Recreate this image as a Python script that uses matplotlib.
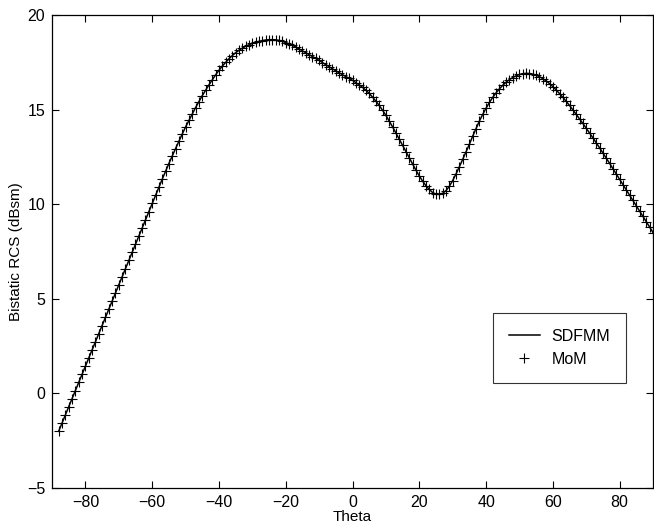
import matplotlib
matplotlib.use("Agg")
import matplotlib.pyplot as plt
import numpy as np

# observation angle (deg), one MoM sample per degree
theta = np.arange(-88, 91)

rcs_sdfmm = [
    -2.00, -1.57, -1.14, -0.71, -0.28, 0.15, 0.58, 1.01, 1.44, 1.87,
    2.30, 2.73, 3.16, 3.59, 4.02, 4.45, 4.88, 5.31, 5.74, 6.17,
    6.60, 7.03, 7.46, 7.89, 8.32, 8.75, 9.18, 9.61, 10.04,
    10.47, 10.90, 11.32, 11.74, 12.15, 12.55, 12.94, 13.33, 13.71, 14.08,
    14.43, 14.77, 15.11, 15.43, 15.74, 16.03, 16.31, 16.58, 16.84, 17.08,
    17.30, 17.50, 17.69, 17.86, 18.01, 18.14, 18.25, 18.35, 18.43, 18.50,
    18.56, 18.61, 18.65, 18.68, 18.70, 18.70, 18.69, 18.66, 18.61, 18.55,
    18.48, 18.40, 18.31, 18.21, 18.11, 18.01, 17.91, 17.81, 17.71, 17.60,
    17.49, 17.38, 17.27, 17.16, 17.05, 16.95, 16.85, 16.75, 16.65, 16.55,
    16.43, 16.31, 16.18, 16.03, 15.86, 15.66, 15.45, 15.22, 14.97, 14.70,
    14.40, 14.09, 13.77, 13.44, 13.11, 12.78, 12.45, 12.12, 11.80, 11.50,
    11.22, 10.98, 10.78, 10.62, 10.53, 10.52, 10.58, 10.72, 10.95, 11.25,
    11.60, 11.98, 12.37, 12.77, 13.17, 13.60, 14.00, 14.40, 14.75, 15.08,
    15.38, 15.65, 15.89, 16.10, 16.29, 16.45, 16.59, 16.70, 16.79, 16.86,
    16.90, 16.92, 16.91, 16.88, 16.82, 16.74, 16.64, 16.52, 16.38, 16.22,
    16.04, 15.85, 15.65, 15.44, 15.22, 14.99, 14.75, 14.51, 14.27, 14.02,
    13.77, 13.51, 13.25, 12.98, 12.71, 12.44, 12.16, 11.88, 11.60, 11.32,
    11.04, 10.76, 10.48, 10.20, 9.92, 9.64, 9.36, 9.08, 8.79, 8.50,
]
rcs_mom = list(rcs_sdfmm)

x_ticks = [-80, -60, -40, -20, 0, 20, 40, 60, 80]
y_ticks = [-5, 0, 5, 10, 15, 20]

plt.rcParams["font.family"] = ["Liberation Sans", "DejaVu Sans"]

fig = plt.figure(figsize=(6.54, 5.29), dpi=100)
ax = fig.add_axes([0.0795, 0.0775, 0.919, 0.894])

ax.plot(theta, rcs_sdfmm, "-", color="black", lw=1.1, label="SDFMM")
ax.plot(theta, rcs_mom, "+", color="black", ms=7, mew=0.8, label="MoM")

ax.set_xlim(-90, 90)
ax.set_ylim(-5, 20)
ax.set_xticks(x_ticks)
ax.set_yticks(y_ticks)
ax.tick_params(direction="in", top=True, right=True, labelsize=11.5, length=5, width=0.8, pad=5)
for sp in ax.spines.values():
    sp.set_linewidth(0.9)

ax.set_xlabel("Theta", fontsize=11, labelpad=0)
ax.set_ylabel("Bistatic RCS (dBsm)", fontsize=11, labelpad=3)

leg = ax.legend(loc="upper left", bbox_to_anchor=(0.733, 0.37), borderaxespad=0,
                fontsize=11.5, frameon=True, fancybox=False, edgecolor="black",
                handlelength=2.0, borderpad=1.0, labelspacing=0.5, handletextpad=0.7)
leg.get_frame().set_linewidth(0.8)

fig.savefig("out.png", dpi=100)
